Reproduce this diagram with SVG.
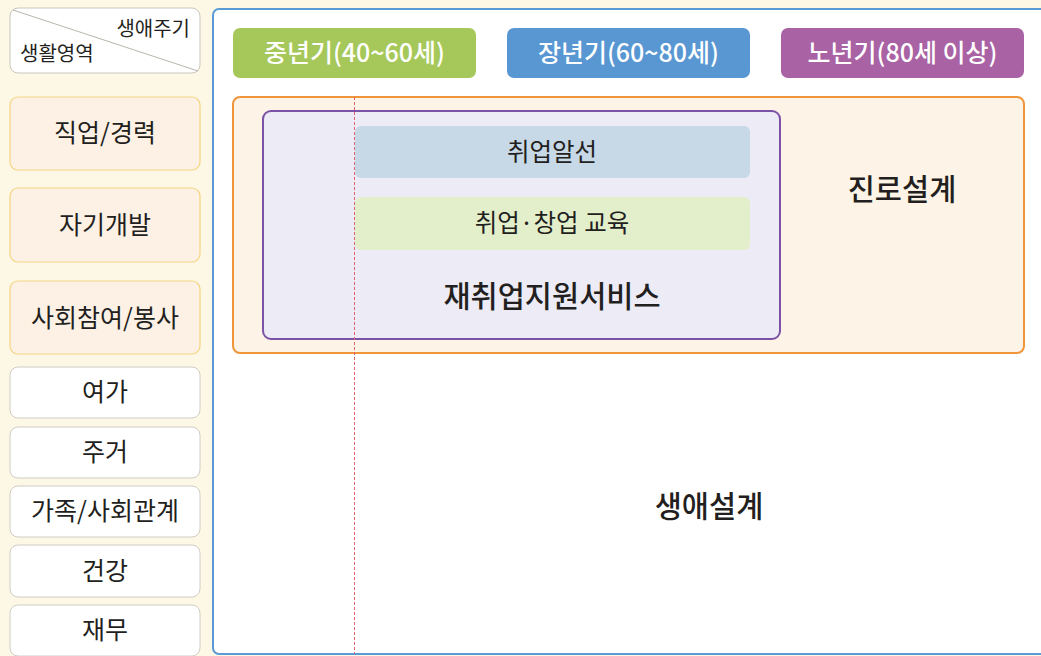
<svg xmlns="http://www.w3.org/2000/svg" width="1041" height="656" viewBox="0 0 1041 656">
<style>
text{font-family:"Noto Sans CJK KR","Noto Sans",sans-serif;fill:#231f20;text-anchor:middle}
.hd{fill:#fff;stroke:#c9c6bd;stroke-width:1}
.ye{fill:#fdf1e6;stroke:#f5d480;stroke-width:1.2}
.wh{fill:#fff;stroke:#cfccc4;stroke-width:1}
.lt{font-size:25px}
.age{font-size:25px;fill:#fff;font-weight:500}
.big{font-size:29.5px;font-weight:500}
.sub{font-size:24.5px}
</style>
<rect x="0" y="0" width="1041" height="656" fill="#fdf8e6"/>
<g id="panel"><rect x="213" y="9" width="840" height="645" rx="6" fill="#fff" stroke="#5b9bd5" stroke-width="2"/></g>
<g id="header">
<rect class="hd" x="10" y="8" width="190" height="65" rx="8"/>
<line x1="13" y1="10" x2="198" y2="71" stroke="#b8b5ae" stroke-width="1"/>
<text x="190" y="36" style="text-anchor:end;font-size:20px">생애주기</text>
<text x="20" y="61" style="text-anchor:start;font-size:20px">생활영역</text>
</g>
<g id="n1"><rect class="ye" x="10" y="97" width="190" height="73" rx="8"/><text class="lt" x="105" y="142">직업/경력</text></g>
<g id="n2"><rect class="ye" x="10" y="188" width="190" height="74" rx="8"/><text class="lt" x="105" y="234">자기개발</text></g>
<g id="n3"><rect class="ye" x="10" y="281" width="190" height="73" rx="8"/><text class="lt" x="105" y="327">사회참여/봉사</text></g>
<g id="n4"><rect class="wh" x="10" y="367" width="190" height="51" rx="8"/><text class="lt" x="105" y="401">여가</text></g>
<g id="n5"><rect class="wh" x="10" y="427" width="190" height="51" rx="8"/><text class="lt" x="105" y="461">주거</text></g>
<g id="n6"><rect class="wh" x="10" y="486" width="190" height="51" rx="8"/><text class="lt" x="105" y="520">가족/사회관계</text></g>
<g id="n7"><rect class="wh" x="10" y="545" width="190" height="52" rx="8"/><text class="lt" x="105" y="580">건강</text></g>
<g id="n8"><rect class="wh" x="10" y="605" width="190" height="51" rx="8"/><text class="lt" x="105" y="639">재무</text></g>
<g id="age1"><rect x="233" y="28" width="243" height="50" rx="7" fill="#a6c85a"/><text class="age" x="354.5" y="62">중년기(40~60세)</text></g>
<g id="age2"><rect x="507" y="28" width="243" height="50" rx="7" fill="#5897d2"/><text class="age" x="628.5" y="62">장년기(60~80세)</text></g>
<g id="age3"><rect x="781" y="28" width="243" height="50" rx="7" fill="#a962a4"/><text class="age" x="902.5" y="62">노년기(80세 이상)</text></g>
<g id="career"><rect x="233" y="97" width="791" height="256" rx="7" fill="#fdf3e6" stroke="#f0963a" stroke-width="2"/><text class="big" x="902" y="200">진로설계</text></g>
<g id="reemploy"><rect x="263" y="111" width="517" height="228" rx="8" fill="#ecebf6" stroke="#7b52a5" stroke-width="2"/><text class="big" x="552" y="307">재취업지원서비스</text></g>
<g id="job"><rect x="355" y="126" width="395" height="52" rx="6" fill="#c7d8e6"/><text class="sub" x="552" y="161">취업알선</text></g>
<g id="edu"><rect x="355" y="197" width="395" height="53" rx="6" fill="#e3efcb"/><text class="sub" x="552" y="232">취업·창업 교육</text></g>
<g id="life"><text class="big" x="709" y="517">생애설계</text></g>
<g id="connectors"><line x1="354.5" y1="97" x2="354.5" y2="654" stroke="#e06070" stroke-width="1" stroke-dasharray="3,2"/></g>
</svg>
